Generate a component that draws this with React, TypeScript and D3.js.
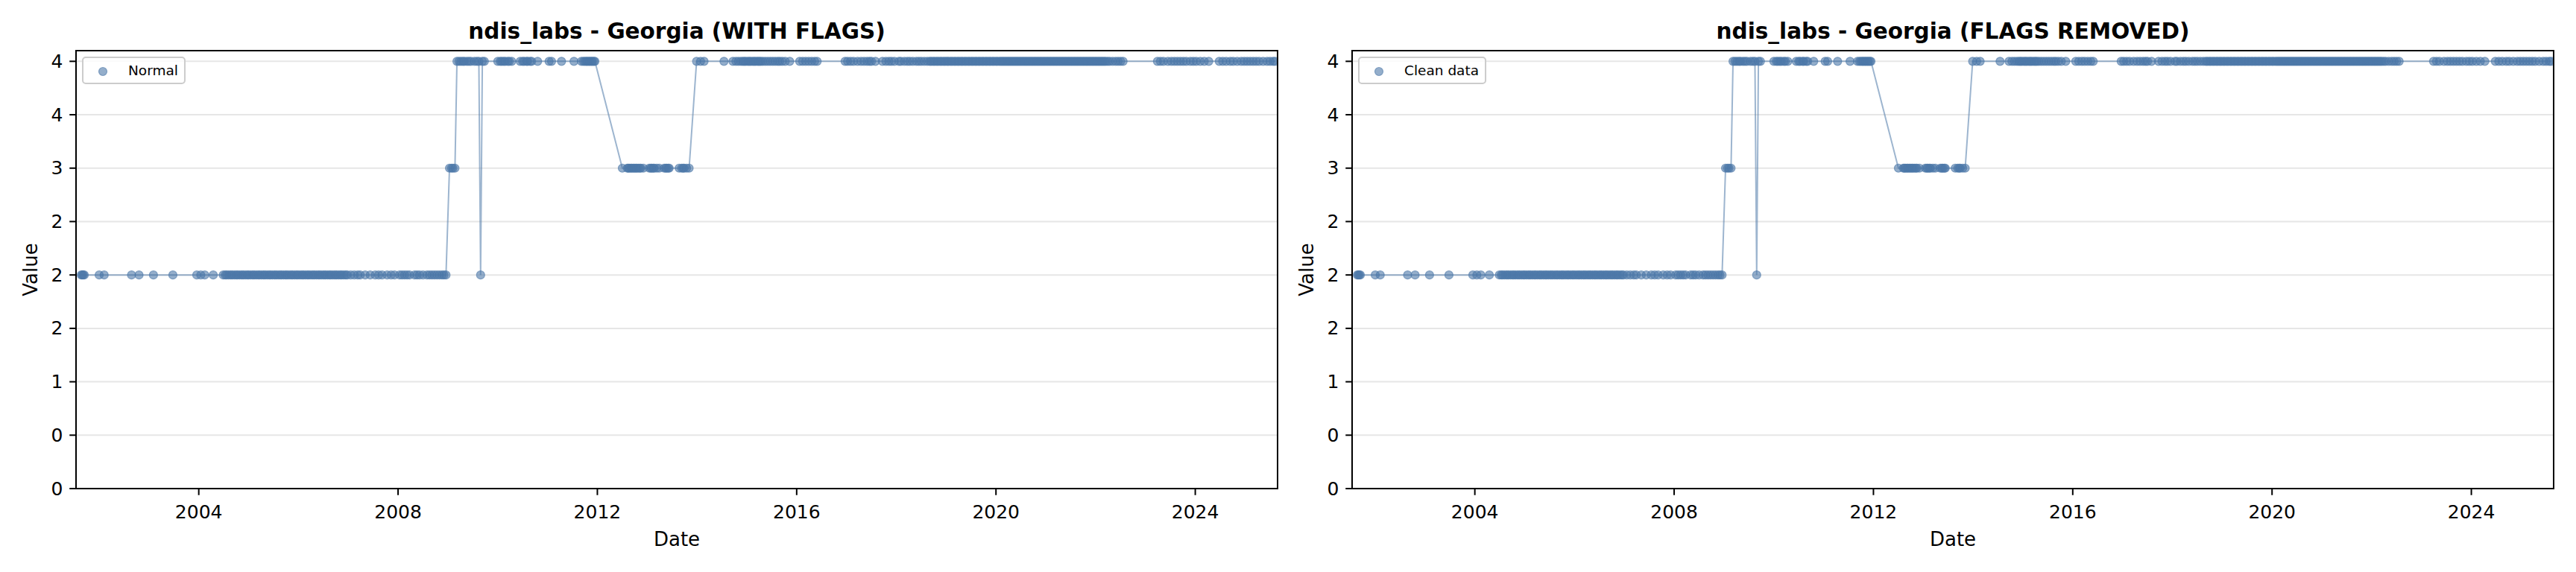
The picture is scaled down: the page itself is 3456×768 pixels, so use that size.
import React from "react";
import * as d3 from "d3";

// ---------- data (decimal years) ----------
const level2Early = [
  2001.64, 2001.66, 2001.68, 2001.7, 2002.0, 2002.1, 2002.65, 2002.8, 2003.09, 2003.48, 2003.96, 2004.04, 2004.12, 2004.29,
  2004.49, 2004.53, 2004.56, 2004.6, 2004.64, 2004.67, 2004.71, 2004.75, 2004.78, 2004.82, 2004.86, 2004.89, 2004.93, 2004.97,
  2005.0, 2005.04, 2005.08, 2005.11, 2005.15, 2005.19, 2005.22, 2005.26, 2005.3, 2005.33, 2005.37, 2005.41, 2005.44, 2005.48,
  2005.52, 2005.55, 2005.59, 2005.63, 2005.66, 2005.7, 2005.74, 2005.77, 2005.81, 2005.85, 2005.88, 2005.92, 2005.96, 2005.99,
  2006.03, 2006.07, 2006.1, 2006.14, 2006.18, 2006.21, 2006.25, 2006.29, 2006.32, 2006.36, 2006.4, 2006.43, 2006.47, 2006.51,
  2006.54, 2006.58, 2006.62, 2006.65, 2006.69, 2006.73, 2006.76, 2006.8, 2006.84, 2006.87, 2006.91, 2006.95, 2006.98,
  2007.05, 2007.12, 2007.19, 2007.24, 2007.34, 2007.44, 2007.54, 2007.61, 2007.68, 2007.78, 2007.86, 2007.93, 2008.03, 2008.08,
  2008.13, 2008.18, 2008.23, 2008.33, 2008.38, 2008.43, 2008.5, 2008.58, 2008.63, 2008.68, 2008.73, 2008.78, 2008.83, 2008.88,
  2008.92, 2008.96,
];
const level3A = [2009.03, 2009.07, 2009.1, 2009.14];
const level4A = [2009.18, 2009.22, 2009.26, 2009.3, 2009.33, 2009.38, 2009.42, 2009.46, 2009.53, 2009.58, 2009.62];
const level2Dip = [2009.655];
const level4B = [
  2009.69, 2009.73, 2010.0, 2010.05, 2010.08, 2010.12, 2010.15, 2010.2, 2010.23, 2010.28, 2010.45, 2010.5, 2010.53, 2010.58,
  2010.6, 2010.65, 2010.68, 2010.8, 2011.03, 2011.08, 2011.28, 2011.53, 2011.68, 2011.72, 2011.75, 2011.78, 2011.8, 2011.83,
  2011.85, 2011.88, 2011.9, 2011.93, 2011.95,
];
const level3B = [
  2012.5, 2012.6, 2012.62, 2012.64, 2012.67, 2012.69, 2012.72, 2012.74, 2012.77, 2012.79, 2012.82, 2012.85, 2012.87, 2012.92,
  2013.04, 2013.07, 2013.09, 2013.12, 2013.14, 2013.19, 2013.24, 2013.34, 2013.37, 2013.39, 2013.42, 2013.44, 2013.64, 2013.69,
  2013.72, 2013.74, 2013.79, 2013.84,
];
const level4C = [
  2013.99, 2014.07, 2014.14, 2014.54, 2014.72, 2014.78, 2014.83, 2014.88, 2014.92, 2014.95, 2014.98, 2015.02, 2015.05, 2015.08,
  2015.12, 2015.15, 2015.18, 2015.22, 2015.25, 2015.28, 2015.32, 2015.37, 2015.42, 2015.47, 2015.52, 2015.57, 2015.62, 2015.66,
  2015.71, 2015.77, 2015.86, 2016.06, 2016.12, 2016.18, 2016.24, 2016.3, 2016.36, 2016.41,
  2016.97, 2017.02, 2017.08, 2017.14, 2017.22, 2017.29, 2017.35, 2017.41, 2017.46, 2017.5, 2017.58, 2017.72, 2017.79, 2017.85,
  2017.9, 2017.96, 2018.05, 2018.09, 2018.16, 2018.22, 2018.27, 2018.33, 2018.4, 2018.45, 2018.5, 2018.56, 2018.62, 2018.67,
  2018.7, 2018.74, 2018.77, 2018.81, 2018.84, 2018.88, 2018.91, 2018.95, 2018.98, 2019.02, 2019.05, 2019.09, 2019.12, 2019.16,
  2019.19, 2019.23, 2019.26, 2019.3, 2019.33, 2019.37, 2019.4, 2019.44, 2019.47, 2019.51, 2019.54, 2019.58, 2019.61, 2019.65,
  2019.68, 2019.72, 2019.75, 2019.79, 2019.82, 2019.86, 2019.89, 2019.93, 2019.96, 2020.0, 2020.03, 2020.07,
  2020.1, 2020.13, 2020.16, 2020.19, 2020.22, 2020.25, 2020.28, 2020.31, 2020.34, 2020.37, 2020.4, 2020.43, 2020.46, 2020.49,
  2020.52, 2020.55, 2020.58, 2020.61, 2020.64, 2020.67, 2020.7, 2020.73, 2020.76, 2020.79, 2020.82, 2020.85, 2020.88, 2020.91,
  2020.94, 2020.97, 2021.0, 2021.03, 2021.06, 2021.09, 2021.12, 2021.15, 2021.18, 2021.21, 2021.24, 2021.27, 2021.3, 2021.33,
  2021.36, 2021.39, 2021.42, 2021.45, 2021.48, 2021.51, 2021.54, 2021.57, 2021.6, 2021.63, 2021.66, 2021.69, 2021.72, 2021.75,
  2021.78, 2021.81, 2021.84, 2021.87, 2021.9, 2021.93, 2021.96, 2021.99, 2022.02, 2022.05, 2022.08, 2022.11, 2022.14, 2022.17,
  2022.2, 2022.24, 2022.28, 2022.34, 2022.4, 2022.45, 2022.5, 2022.55,
  2023.24, 2023.3, 2023.36, 2023.45, 2023.52, 2023.58, 2023.64, 2023.7, 2023.76, 2023.82, 2023.9, 2023.96, 2024.02, 2024.1,
  2024.18, 2024.27, 2024.48, 2024.55, 2024.62, 2024.7, 2024.76, 2024.84, 2024.92, 2024.98, 2025.04, 2025.1, 2025.16, 2025.22,
  2025.28, 2025.36, 2025.44, 2025.5, 2025.56, 2025.6,
];

const runs: [number[], number][] = [
  [level2Early, 2],
  [level3A, 3],
  [level4A, 4],
  [level2Dip, 2],
  [level4B, 4],
  [level3B, 3],
  [level4C, 4],
];

const yTickValues = [0, 0.5, 1, 1.5, 2, 2.5, 3, 3.5, 4];
const yTickLabels = ["0", "0", "1", "2", "2", "2", "3", "4", "4"];
const xTickYears = [2004, 2008, 2012, 2016, 2020, 2024];
const xDomainYears = [2001.535, 2025.65];
const yDomain = [0, 4.1];

const panelTitles = ["ndis_labs - Georgia (WITH FLAGS)", "ndis_labs - Georgia (FLAGS REMOVED)"];
const legendLabels = ["Normal", "Clean data"];

// ---------- helpers ----------
const toDate = (y: number) => {
  const yr = Math.floor(y);
  const s = Date.UTC(yr, 0, 1);
  const e = Date.UTC(yr + 1, 0, 1);
  return new Date(s + (y - yr) * (e - s));
};

const points = runs.flatMap(([dates, v]) => dates.map((d) => ({ date: toDate(d), value: v })));

const W = 3456;
const H = 768;
const TOP = 68;
const BOTTOM = 656;
const PANELS = [
  { x0: 102, x1: 1714 },
  { x0: 1814, x1: 3426 },
];
const COLOR = "#4C78A8";
const FONT = "'DejaVu Sans', sans-serif";
const R = 5.5;

function measure(text: string, font: string) {
  const c = document.createElement("canvas").getContext("2d");
  if (!c) return text.length * 10;
  c.font = font;
  return c.measureText(text).width;
}

function Panel({ idx }: { idx: number }) {
  const { x0, x1 } = PANELS[idx];
  const x = d3.scaleUtc().domain(xDomainYears.map(toDate)).range([x0, x1]);
  const y = d3.scaleLinear().domain(yDomain).range([BOTTOM, TOP]);
  const line = d3
    .line<{ date: Date; value: number }>()
    .x((d) => x(d.date))
    .y((d) => y(d.value));
  const clipId = `clip-${idx}`;
  const cx = (x0 + x1) / 2;
  const legendText = legendLabels[idx];
  const tw = measure(legendText, `18.5px 'DejaVu Sans'`);
  const lx = x0 + 9;
  const ly = 77;
  return (
    <g>
      <defs>
        <clipPath id={clipId}>
          <rect x={x0} y={TOP} width={x1 - x0} height={BOTTOM - TOP} />
        </clipPath>
      </defs>
      {yTickValues.map((t, i) => (
        <line key={i} x1={x0} x2={x1} y1={y(t)} y2={y(t)} stroke="#e6e6e6" strokeWidth={2} />
      ))}
      <g clipPath={`url(#${clipId})`}>
        <path d={line(points) || ""} fill="none" stroke={COLOR} strokeOpacity={0.55} strokeWidth={2} />
        {points.map((p, i) => (
          <circle
            key={i}
            cx={x(p.date)}
            cy={y(p.value)}
            r={R}
            fill={COLOR}
            fillOpacity={0.6}
            stroke={COLOR}
            strokeOpacity={0.6}
            strokeWidth={1.2}
          />
        ))}
      </g>
      <rect x={x0} y={TOP} width={x1 - x0} height={BOTTOM - TOP} fill="none" stroke="#000" strokeWidth={2} />
      {yTickValues.map((t, i) => (
        <g key={i}>
          <line x1={x0 - 8.75} x2={x0} y1={y(t)} y2={y(t)} stroke="#000" strokeWidth={2} />
          <text x={x0 - 17.5} y={y(t)} textAnchor="end" dominantBaseline="central" fontSize={25} fontFamily={FONT}>
            {yTickLabels[i]}
          </text>
        </g>
      ))}
      {xTickYears.map((yr) => {
        const px = x(toDate(yr));
        return (
          <g key={yr}>
            <line x1={px} x2={px} y1={BOTTOM} y2={BOTTOM + 8.75} stroke="#000" strokeWidth={2} />
            <text x={px} y={696} textAnchor="middle" fontSize={25} fontFamily={FONT}>
              {String(yr)}
            </text>
          </g>
        );
      })}
      <text x={cx} y={52} textAnchor="middle" fontSize={29.5} fontWeight="bold" fontFamily={FONT}>
        {panelTitles[idx]}
      </text>
      <text x={cx} y={733} textAnchor="middle" fontSize={26} fontFamily={FONT}>
        Date
      </text>
      <text
        transform={`translate(${x0 - 52},${(TOP + BOTTOM) / 2}) rotate(-90)`}
        textAnchor="middle"
        fontSize={26}
        fontFamily={FONT}
      >
        Value
      </text>
      <rect
        x={lx}
        y={ly}
        width={70 + tw}
        height={35}
        rx={4}
        fill="#fff"
        fillOpacity={0.8}
        stroke="#cccccc"
        strokeWidth={2}
      />
      <circle cx={x0 + 36} cy={96} r={R} fill={COLOR} fillOpacity={0.6} stroke={COLOR} strokeOpacity={0.6} strokeWidth={1.2} />
      <text x={x0 + 70} y={101} fontSize={18.5} fontFamily={FONT}>
        {legendText}
      </text>
    </g>
  );
}

export default function App() {
  return (
    <svg
      width={W}
      height={H}
      viewBox={`0 0 ${W} ${H}`}
      style={{ position: "absolute", left: 0, top: 0, background: "#fff" }}
    >
      <rect x={0} y={0} width={W} height={H} fill="#fff" />
      <Panel idx={0} />
      <Panel idx={1} />
    </svg>
  );
}
